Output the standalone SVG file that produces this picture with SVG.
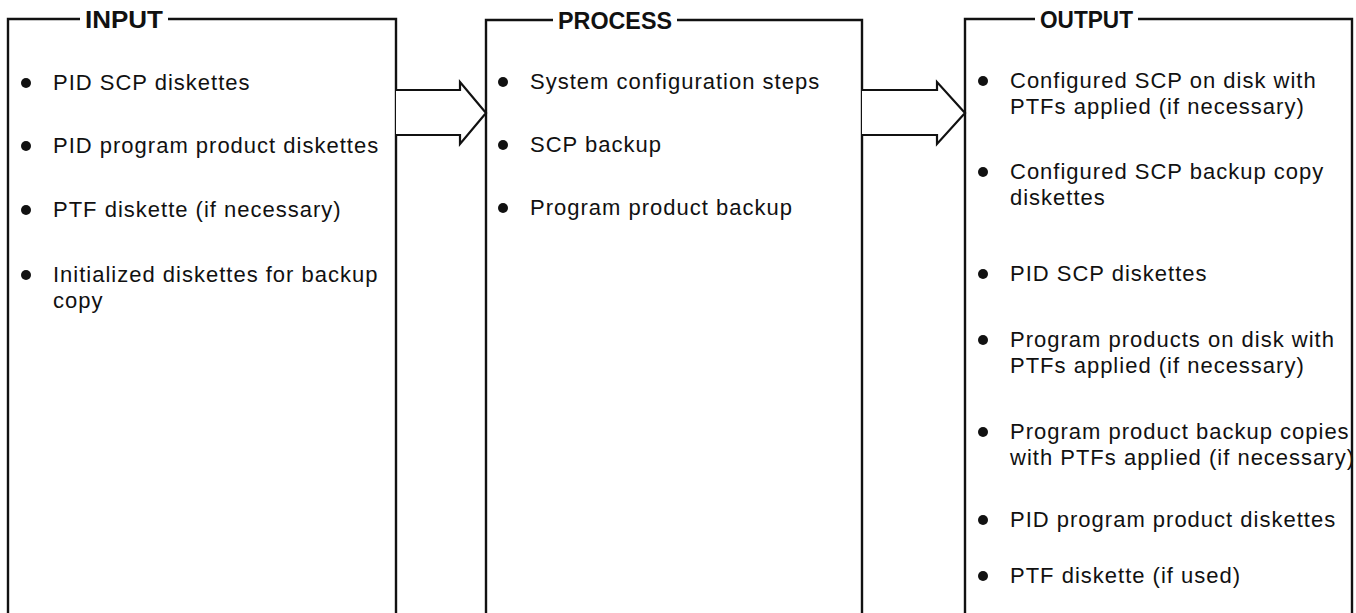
<svg xmlns="http://www.w3.org/2000/svg" width="1356" height="613" viewBox="0 0 1356 613">
<style>
.box{fill:none;stroke:#111;stroke-width:2.4}
.arrow{fill:#fff;stroke:#111;stroke-width:2.2;stroke-linejoin:miter}
.title{font-family:"Liberation Sans",Arial,sans-serif;font-weight:bold;font-size:23px;fill:#111}
.t{font-family:"Liberation Sans",Arial,sans-serif;font-size:22px;letter-spacing:1px;fill:#111}
.dot{fill:#111}
</style>
<rect width="1356" height="613" fill="#fff"/>
<g id="input">
<path class="box" d="M8,620 V19 H80 M168,19 H396 V620"/>
<text class="title" x="85" y="28" textLength="78" lengthAdjust="spacingAndGlyphs">INPUT</text>
<circle class="dot" cx="26" cy="83" r="5"/>
<text class="t" x="53" y="90">PID SCP diskettes</text>
<circle class="dot" cx="26" cy="146" r="5"/>
<text class="t" x="53" y="153">PID program product diskettes</text>
<circle class="dot" cx="26" cy="210" r="5"/>
<text class="t" x="53" y="217">PTF diskette (if necessary)</text>
<circle class="dot" cx="26" cy="275" r="5"/>
<text class="t" x="53" y="282">Initialized diskettes for backup</text>
<text class="t" x="53" y="308">copy</text>
</g>
<g id="process">
<path class="box" d="M486,620 V20 H553 M677,20 H862 V620"/>
<text class="title" x="558" y="29" textLength="114" lengthAdjust="spacingAndGlyphs">PROCESS</text>
<circle class="dot" cx="503" cy="82" r="5"/>
<text class="t" x="530" y="89">System configuration steps</text>
<circle class="dot" cx="503" cy="145" r="5"/>
<text class="t" x="530" y="152">SCP backup</text>
<circle class="dot" cx="503" cy="208" r="5"/>
<text class="t" x="530" y="215">Program product backup</text>
</g>
<g id="output">
<path class="box" d="M965,620 V19 H1035 M1138,19 H1352 V620"/>
<text class="title" x="1040" y="28" textLength="93" lengthAdjust="spacingAndGlyphs">OUTPUT</text>
<circle class="dot" cx="983" cy="81" r="5"/>
<text class="t" x="1010" y="88">Configured SCP on disk with</text>
<text class="t" x="1010" y="114">PTFs applied (if necessary)</text>
<circle class="dot" cx="983" cy="172" r="5"/>
<text class="t" x="1010" y="179">Configured SCP backup copy</text>
<text class="t" x="1010" y="205">diskettes</text>
<circle class="dot" cx="983" cy="274" r="5"/>
<text class="t" x="1010" y="281">PID SCP diskettes</text>
<circle class="dot" cx="983" cy="340" r="5"/>
<text class="t" x="1010" y="347">Program products on disk with</text>
<text class="t" x="1010" y="373">PTFs applied (if necessary)</text>
<circle class="dot" cx="983" cy="432" r="5"/>
<text class="t" x="1010" y="439">Program product backup copies</text>
<text class="t" x="1010" y="465" letter-spacing="0.8">with PTFs applied (if necessary)</text>
<circle class="dot" cx="983" cy="520" r="5"/>
<text class="t" x="1010" y="527">PID program product diskettes</text>
<circle class="dot" cx="983" cy="576" r="5"/>
<text class="t" x="1010" y="583">PTF diskette (if used)</text>
</g>
<g id="connectors">
<path class="arrow" d="M396,90 H460 V82 L486,113 L460,144 V135 H396"/>
<path class="arrow" d="M862,90 H937 V82 L965,113 L937,144 V135 H862"/>
</g>
</svg>
